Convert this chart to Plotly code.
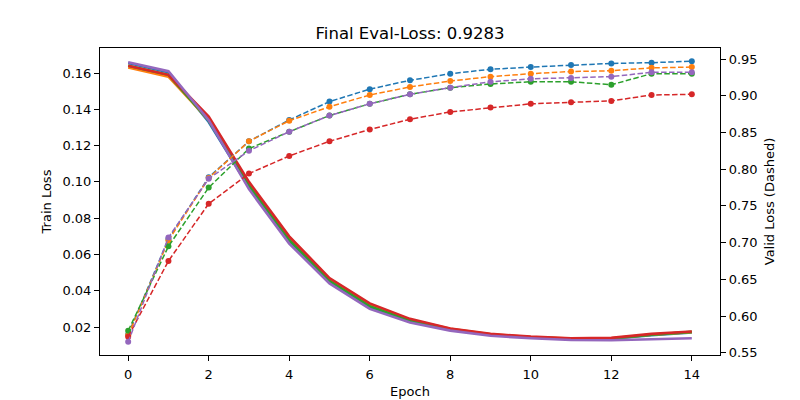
import plotly.graph_objects as go

epochs = list(range(15))
series_names = ["run 0", "run 1", "run 2", "run 3", "run 4"]
colors = ["#1f77b4", "#ff7f0e", "#2ca02c", "#d62728", "#9467bd"]

train_blue = [0.1655, 0.1605, 0.133, 0.097, 0.067, 0.045, 0.031, 0.023, 0.0185, 0.0157, 0.0142, 0.0134, 0.0135, 0.0155, 0.0170]
train_orange = [0.163, 0.158, 0.134, 0.099, 0.0695, 0.0465, 0.0325, 0.024, 0.019, 0.016, 0.0145, 0.0137, 0.0138, 0.0158, 0.0172]
train_green = [0.164, 0.159, 0.134, 0.098, 0.068, 0.0455, 0.0315, 0.0235, 0.0188, 0.0158, 0.0143, 0.0135, 0.0136, 0.0157, 0.0173]
train_red = [0.164, 0.159, 0.136, 0.100, 0.070, 0.047, 0.033, 0.0245, 0.0192, 0.0162, 0.0147, 0.0138, 0.0140, 0.0162, 0.0175]
train_purple = [0.166, 0.161, 0.134, 0.096, 0.066, 0.044, 0.030, 0.0225, 0.018, 0.0152, 0.0138, 0.0128, 0.0127, 0.0132, 0.0138]

valid_blue = [0.575, 0.705, 0.789, 0.838, 0.867, 0.892, 0.909, 0.921, 0.930, 0.936, 0.939, 0.942, 0.944, 0.945, 0.947]
valid_orange = [0.574, 0.703, 0.788, 0.838, 0.866, 0.885, 0.901, 0.912, 0.920, 0.926, 0.930, 0.933, 0.934, 0.938, 0.939]
valid_green = [0.580, 0.695, 0.775, 0.828, 0.851, 0.873, 0.889, 0.902, 0.911, 0.916, 0.919, 0.919, 0.915, 0.930, 0.930]
valid_red = [0.572, 0.675, 0.753, 0.794, 0.818, 0.838, 0.854, 0.868, 0.878, 0.884, 0.889, 0.891, 0.893, 0.901, 0.902]
valid_purple = [0.565, 0.707, 0.787, 0.825, 0.851, 0.873, 0.889, 0.902, 0.911, 0.919, 0.923, 0.924, 0.926, 0.932, 0.932]

train = [train_blue, train_orange, train_green, train_red, train_purple]
valid = [valid_blue, valid_orange, valid_green, valid_red, valid_purple]

title_text = "Final Eval-Loss: 0.9283"

FONT = "DejaVu Sans"
fig = go.Figure()

for name, c, tr in zip(series_names, colors, train):
    fig.add_trace(go.Scatter(x=epochs, y=tr, mode="lines", name=name + " train",
                             line=dict(color=c, width=2.6), yaxis="y"))
for name, c, va in zip(series_names, colors, valid):
    fig.add_trace(go.Scatter(x=epochs, y=va, mode="lines+markers", name=name + " valid",
                             line=dict(color=c, width=1.5, dash="5.5px,2.4px"),
                             marker=dict(color=c, size=6), yaxis="y2"))

axis_common = dict(showline=True, linecolor="black", linewidth=1.1, ticks="outside",
                   ticklen=5, tickwidth=1.1, tickcolor="black", showgrid=False, zeroline=False,
                   automargin=False,
                   tickfont=dict(family=FONT, size=13, color="black"))

fig.update_layout(
    width=800, height=400,
    margin=dict(l=100, r=80, t=48, b=45, autoexpand=False),
    plot_bgcolor="white", paper_bgcolor="white",
    showlegend=False,
    title=dict(text=title_text, x=0.5, xanchor="center", y=1 - 33 / 400, yanchor="middle",
               xref="paper", yref="container", automargin=False,
               font=dict(family=FONT, size=16.5, color="black")),
    xaxis=dict(range=[-0.7, 14.7], tickmode="array", tickvals=[0, 2, 4, 6, 8, 10, 12, 14],
               mirror=True, ticklabelstandoff=2,
               title=dict(text="Epoch", standoff=6, font=dict(family=FONT, size=13, color="black")),
               **axis_common),
    yaxis=dict(range=[0.00457, 0.1738], tickmode="linear", tick0=0.02, dtick=0.02, tickformat=".2f",
               mirror=True,
               title=dict(text="Train Loss", standoff=7, font=dict(family=FONT, size=13, color="black")),
               **axis_common),
    yaxis2=dict(range=[0.547, 0.965], overlaying="y", side="right", anchor="x",
                tickmode="linear", tick0=0.55, dtick=0.05, tickformat=".2f",
                title=dict(text="Valid Loss (Dashed)", standoff=8, font=dict(family=FONT, size=13, color="black")),
                **axis_common),
)

fig.write_html("out.html")
